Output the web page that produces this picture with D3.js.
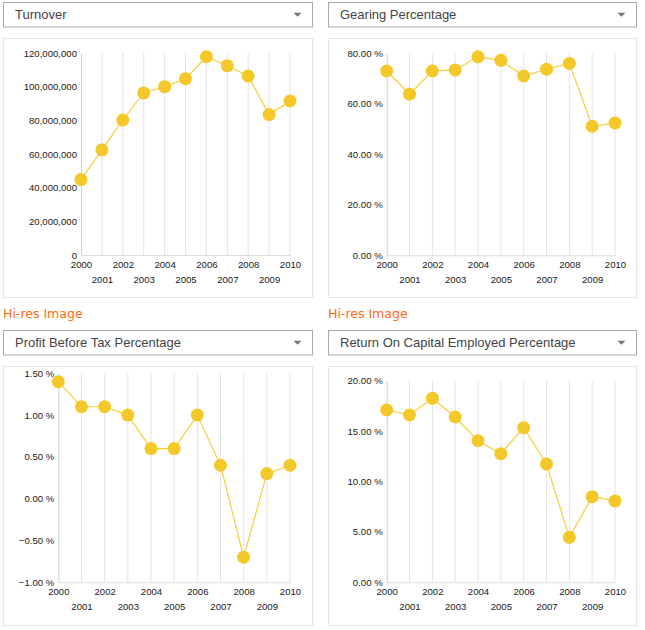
<!DOCTYPE html>
<meta charset="utf-8">
<style>
body { margin: 0; padding: 0; background: #fff; }
svg { display: block; }
.tick text { font-family: Arial, "Liberation Sans", sans-serif; font-size: 9.6px; fill: #1a1a1a; }
</style>
<body>
<svg id="chart" width="645" height="630"></svg>
<script src="https://cdn.jsdelivr.net/npm/d3@7"></script>
<script>

var years = ["2000","2001","2002","2003","2004","2005","2006","2007","2008","2009","2010"];

var turnover = [44800000, 62500000, 80200000, 96300000, 100000000, 104700000, 117800000, 112400000, 106300000, 83400000, 91500000];
var gearing = [73.0, 63.8, 73.0, 73.4, 78.6, 77.2, 71.0, 73.7, 76.0, 51.1, 52.4];
var profitBeforeTax = [1.4, 1.1, 1.1, 1.0, 0.6, 0.6, 1.0, 0.4, -0.7, 0.3, 0.4];
var roce = [17.1, 16.6, 18.25, 16.4, 14.05, 12.76, 15.34, 11.74, 4.46, 8.49, 8.07];

var titles = ["Turnover", "Gearing Percentage", "Profit Before Tax Percentage", "Return On Capital Employed Percentage"];
var turnoverTicks = [0, 20000000, 40000000, 60000000, 80000000, 100000000, 120000000];
var gearingTicks = [0, 20, 40, 60, 80];
var pbtTicks = [-1, -0.5, 0, 0.5, 1, 1.5];
var roceTicks = [0, 5, 10, 15, 20];

var pct = function(d) { return d3.format(".2f")(d) + " %"; };

var panels = [
  { title: titles[0], values: turnover, ticks: turnoverTicks, fmt: d3.format(","), x: 3.5, y: 2.5, w: 309, m: {l: 77.5, r: 22.5, t: 14.5, b: 42.5} },
  { title: titles[1], values: gearing, ticks: gearingTicks, fmt: pct, x: 328.5, y: 2.5, w: 308, m: {l: 58.2, r: 21.5, t: 14.8, b: 42.2} },
  { title: titles[2], values: profitBeforeTax, ticks: pbtTicks, fmt: pct, x: 3.5, y: 330.5, w: 309, m: {l: 54.8, r: 22.5, t: 6.8, b: 43.2}, hires: true },
  { title: titles[3], values: roce, ticks: roceTicks, fmt: pct, x: 328.5, y: 330.5, w: 308, m: {l: 58.2, r: 21.5, t: 14.2, b: 43.2}, hires: true }
];

var svg = d3.select("#chart");
var boxH = 259, boxGap = 36, dropH = 24.5;

panels.forEach(function(p) {
  var g = svg.append("g").attr("transform", "translate(" + p.x + "," + p.y + ")");

  if (p.hires) {
    g.append("text")
      .attr("x", -0.5).attr("y", -12.5)
      .attr("font-family", "Verdana, 'DejaVu Sans', sans-serif")
      .attr("font-size", "12.5px")
      .attr("fill", "#ff6a13")
      .text("Hi-res Image");
  }

  // dropdown
  g.append("rect")
    .attr("width", p.w).attr("height", dropH)
    .attr("fill", "#fff").attr("stroke", "#a9a9a9");
  g.append("text")
    .attr("x", 11.5).attr("y", dropH / 2 + 4.5)
    .attr("font-family", "'Liberation Sans', Arial, sans-serif")
    .attr("font-size", "13px")
    .attr("fill", "#444")
    .text(p.title);
  g.append("path")
    .attr("d", "M" + (p.w - 19) + "," + (dropH / 2 - 2) + "l8,0l-4,4z")
    .attr("fill", "#777");

  // chart box
  var box = g.append("g").attr("transform", "translate(0," + boxGap + ")");
  box.append("rect")
    .attr("width", p.w).attr("height", boxH)
    .attr("fill", "#fff").attr("stroke", "#e6e6e6");

  var iw = p.w - p.m.l - p.m.r, ih = boxH - p.m.t - p.m.b;
  var plot = box.append("g").attr("transform", "translate(" + p.m.l + "," + p.m.t + ")");

  var x = d3.scalePoint().domain(years).range([0, iw]);
  var y = d3.scaleLinear().domain(d3.extent(p.ticks)).range([ih, 0]);

  // vertical grid
  plot.append("g").selectAll("line").data(years.slice(1)).join("line")
    .attr("x1", function(d) { return x(d); }).attr("x2", function(d) { return x(d); })
    .attr("y1", 0).attr("y2", ih)
    .attr("stroke", "#e4e4e4");

  var ya = plot.append("g").call(d3.axisLeft(y).tickValues(p.ticks).tickFormat(p.fmt).tickSize(0).tickPadding(4));
  ya.select(".domain").attr("stroke", "#cfcfcf");

  var xa = plot.append("g").attr("transform", "translate(0," + ih + ")")
    .call(d3.axisBottom(x).tickSize(0).tickPadding(4));
  xa.select(".domain").attr("stroke", "#dcdcdc");
  xa.selectAll(".tick text").attr("dy", function(d, i) { return i % 2 ? "2.45em" : "0.9em"; });

  var line = d3.line()
    .x(function(d, i) { return x(years[i]); })
    .y(function(d) { return y(d); });

  plot.append("path").datum(p.values)
    .attr("d", line)
    .attr("fill", "none")
    .attr("stroke", "#f7cd3a")
    .attr("stroke-width", 1.2);

  plot.append("g").selectAll("circle").data(p.values).join("circle")
    .attr("cx", function(d, i) { return x(years[i]); })
    .attr("cy", function(d) { return y(d); })
    .attr("r", 6.5)
    .attr("fill", "#f5c829");
});

</script>
</body>
